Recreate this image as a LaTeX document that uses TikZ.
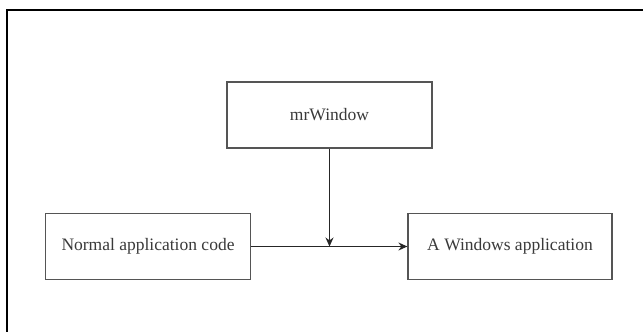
\documentclass[tikz,border=0pt]{standalone}
\usepackage{fontspec}
\setmainfont{Liberation Serif}
\usetikzlibrary{arrows.meta}
\definecolor{boxline}{HTML}{555555}
\definecolor{txt}{HTML}{3A3A3A}
\begin{document}
\begin{tikzpicture}[x=1pt,y=-1pt,
  box/.style={draw=boxline,line width=1.2pt,rectangle,minimum width=205pt,minimum height=66pt,inner sep=0pt,
    font=\fontsize{17.5}{20}\selectfont,text=txt},
  conn/.style={draw=black!85,line width=1.2pt,-{Stealth[length=9pt,width=8pt]}}]
\useasboundingbox (0,0) rectangle (643,332);
\fill[white] (0,0) rectangle (643,332);
\draw[line width=1.6pt,black] (7,332) |- (643,10);
\node[box] (mw) at (329.5,115) {mrWindow};
\node[box] (nac) at (148,246.5) {Normal application code};
\node[box,minimum width=204pt] (awa) at (510,246.5) {A Windows application};
\coordinate (j) at (329.5,246.5);
\draw[conn] (mw.south) -- (j);
\draw[conn] (nac.east) -- (awa.west);
\end{tikzpicture}
\end{document}
